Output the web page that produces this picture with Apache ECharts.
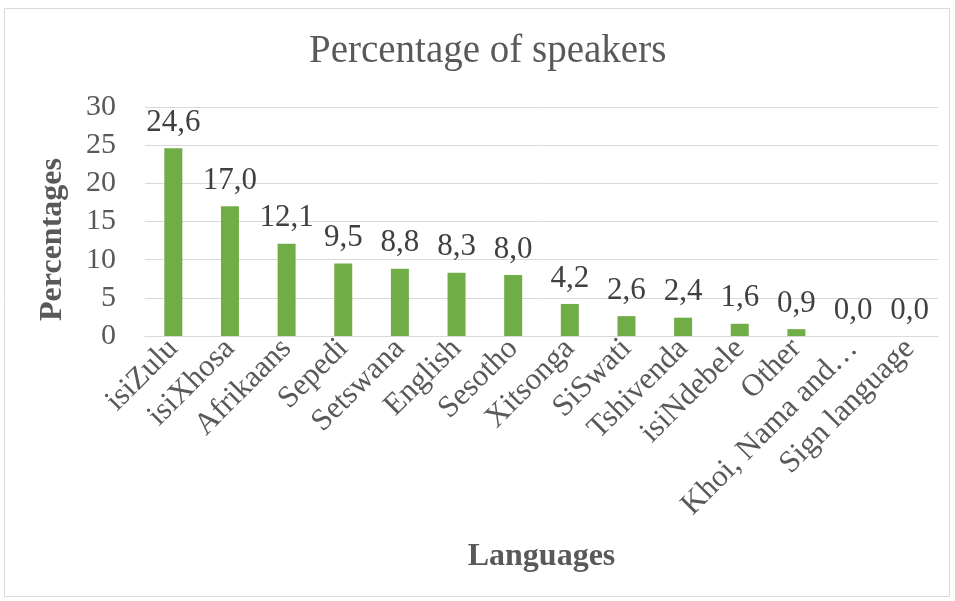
<!DOCTYPE html>
<html><head><meta charset="utf-8">
<script src="https://cdn.jsdelivr.net/npm/echarts@6/dist/echarts.min.js"></script>
<style>html,body{margin:0;padding:0;background:#fff}#c{width:955px;height:601px}</style>
</head><body><div id="c"></div>
<script>
const categories = ["isiZulu","isiXhosa","Afrikaans","Sepedi","Setswana","English","Sesotho","Xitsonga","SiSwati","Tshivenda","isiNdebele","Other","Khoi, Nama and\u2026","Sign language"];
const values = [24.6,17.0,12.1,9.5,8.8,8.3,8.0,4.2,2.6,2.4,1.6,0.9,0.0,0.0];
const yTicks = [0,5,10,15,20,25,30];

const FONT = '"Liberation Serif","Times New Roman",serif';
const chart = echarts.init(document.getElementById('c'));
chart.setOption({
  animation:false,
  backgroundColor:'#fff',
  graphic:[{type:'rect',shape:{x:4.5,y:8.5,width:945,height:588},style:{fill:'none',stroke:'#D9D9D9',lineWidth:1}}],
  title:{text:'Percentage of speakers',left:304,top:27,textStyle:{fontFamily:FONT,fontSize:39,fontWeight:'normal',color:'#595959'}},
  grid:{left:145,right:17,top:107,bottom:265,containLabel:false},
  xAxis:{type:'category',data:categories,
    name:'Languages',nameLocation:'middle',nameGap:205,
    nameTextStyle:{fontFamily:FONT,fontSize:32,fontWeight:'bold',color:'#595959'},
    axisLine:{show:true,lineStyle:{color:'#D9D9D9'}},axisTick:{show:false},
    axisLabel:{rotate:45,interval:0,fontFamily:FONT,fontSize:31,color:'#595959',margin:8}},
  yAxis:{type:'value',min:yTicks[0],max:yTicks[yTicks.length-1],interval:5,
    name:'Percentages',nameLocation:'middle',nameGap:76,nameRotate:90,
    nameTextStyle:{fontFamily:FONT,fontSize:32,fontWeight:'bold',color:'#595959',padding:[0,36,0,0]},
    axisLine:{show:false},axisTick:{show:false},
    splitLine:{lineStyle:{color:'#D9D9D9',width:1}},
    axisLabel:{fontFamily:FONT,fontSize:30,color:'#595959',margin:29}},
  series:[{type:'bar',data:values,barWidth:18,itemStyle:{color:'#70AD47'},
    label:{show:true,position:'top',distance:10,fontFamily:FONT,fontSize:31,color:'#404040',
      formatter:p=>p.value.toFixed(1).replace('.',',')}}]
});
</script></body></html>
